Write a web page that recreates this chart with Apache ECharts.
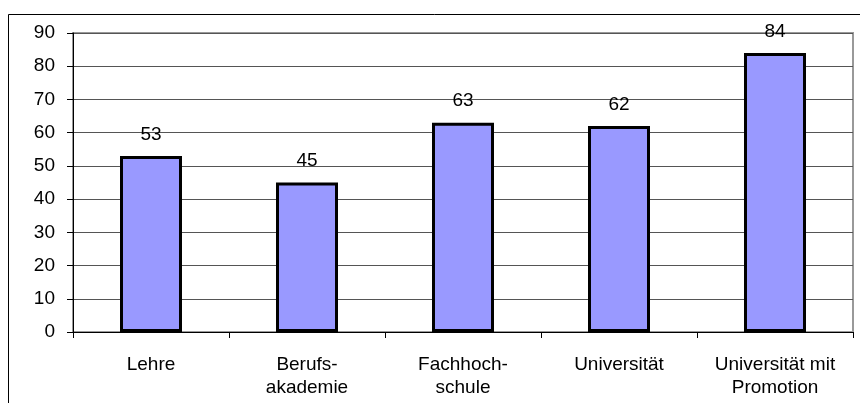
<!DOCTYPE html>
<html><head><meta charset="utf-8">
<script src="https://cdn.jsdelivr.net/npm/echarts@6/dist/echarts.min.js"></script>
<style>html,body{margin:0;padding:0;background:#fff}#c{width:860px;height:403px}</style>
</head><body><div id="c"></div>
<script>
const categories = ['Lehre', 'Berufs-\nakademie', 'Fachhoch-\nschule', 'Universität', 'Universität mit\nPromotion'];
const values = [53, 45, 63, 62, 84];
const yTicks = {min: 0, max: 90, interval: 10};

const chart = echarts.init(document.getElementById('c'), null, {renderer: 'canvas'});
const font = 'Liberation Sans';
chart.setOption({
  animation: false,
  grid: {left: 73, right: 7, top: 33, bottom: 71, show: true, borderColor: '#999999', borderWidth: 2, backgroundColor: 'transparent'},
  graphic: [{type: 'rect', shape: {x: 8.5, y: 14.5, width: 860, height: 400}, style: {fill: 'none', stroke: '#000', lineWidth: 1}, silent: true}],
  xAxis: {
    type: 'category', data: categories,
    axisLine: {lineStyle: {color: '#000', width: 1}},
    axisTick: {show: true, alignWithLabel: false, length: 6, lineStyle: {color: '#000'}},
    axisLabel: {color: '#000', fontFamily: font, fontSize: 19, margin: 21, lineHeight: 23, interval: 0, hideOverlap: false}
  },
  yAxis: {
    type: 'value', min: yTicks.min, max: yTicks.max, interval: yTicks.interval,
    axisLine: {show: true, lineStyle: {color: '#000', width: 1}},
    axisTick: {show: true, length: 6, lineStyle: {color: '#000'}},
    splitLine: {show: true, lineStyle: {color: '#555555', width: 1}},
    axisLabel: {color: '#000', fontFamily: font, fontSize: 19, margin: 18}
  },
  series: [{
    type: 'bar', data: values, barWidth: 62,
    itemStyle: {color: '#9999FF', borderColor: '#000', borderWidth: 3},
    label: {show: true, position: 'top', distance: 12, color: '#000', fontFamily: font, fontSize: 19}
  }]
});
</script></body></html>
